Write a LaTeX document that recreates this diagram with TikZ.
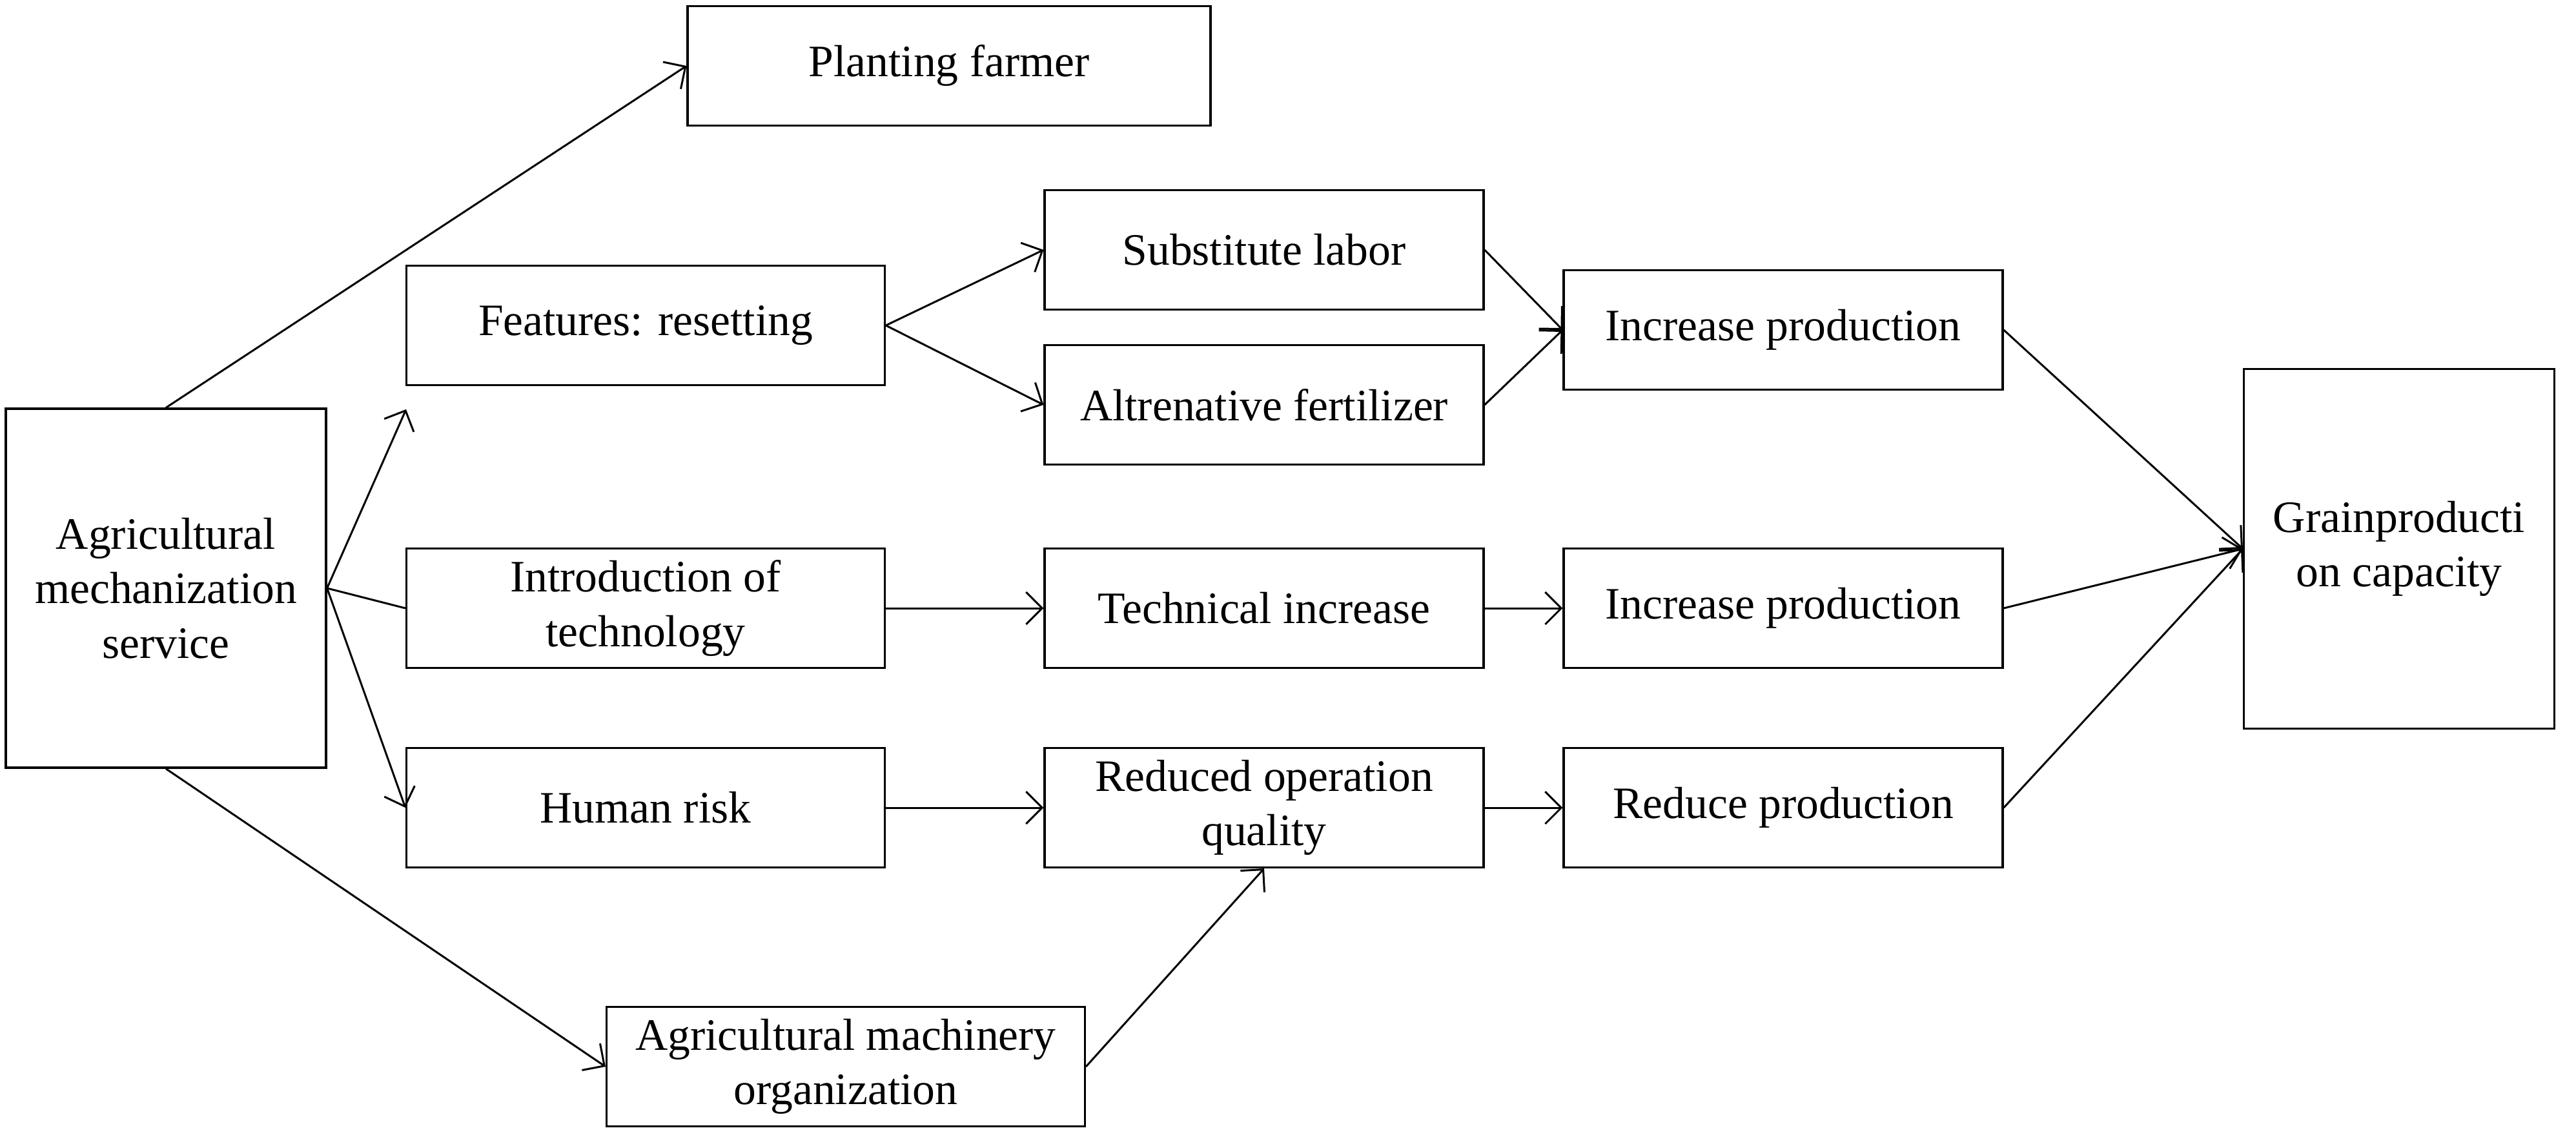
\documentclass[tikz,border=0pt]{standalone}
\usepackage{fontspec}
\setmainfont{Liberation Serif}
\usepackage{tikz}
\usetikzlibrary{arrows.meta, positioning}

\tikzset{
    box/.style={draw, line width=0.9pt, align=center, inner sep=0pt,
        minimum height=1.85cm, font=\fontsize{19.8}{24}\selectfont},
    widebox/.style={box, minimum width=7.41cm},
    midbox/.style={box, minimum width=6.8cm},
    link/.style={line width=0.85pt, -{Straight Barb[length=2.5mm,width=5mm]}},
    plain/.style={line width=0.85pt}
}

\begin{document}
\begin{tikzpicture}
    \useasboundingbox (0,0) rectangle (39.9,-17.6);

    % Left and right columns
    \node[box, minimum width=4.96cm, minimum height=5.56cm] (mech) at (2.57,-9.11) {Agricultural\\mechanization\\service};
    \node[box, minimum width=4.81cm, minimum height=5.57cm] (grain) at (37.16,-8.50) {Grainproducti\\on capacity};

    % Top row
    \node[box, minimum width=8.1cm] (farmer) at (14.70,-1.02) {Planting farmer};
    \node[widebox] (features) at (10.00,-5.04) {Features: resetting};
    \node[midbox] (sublabor) at (19.58,-3.87) {Substitute labor};
    \node[midbox] (fert) at (19.58,-6.27) {Altrenative fertilizer};
    \node[midbox] (incone) at (27.62,-5.11) {Increase production};
    \coordinate (fstub) at (6.29,-6.34);

    % Middle row
    \node[widebox] (intro) at (10.00,-9.42) {Introduction of\\technology};
    \node[midbox] (techinc) at (19.58,-9.42) {Technical increase};
    \node[midbox] (inctwo) at (27.62,-9.42) {Increase production};

    % Bottom rows
    \node[widebox] (hrisk) at (10.00,-12.51) {Human risk};
    \node[midbox] (redop) at (19.58,-12.51) {Reduced operation\\quality};
    \node[midbox] (redprod) at (27.62,-12.51) {Reduce production};
    \node[widebox] (machorg) at (13.10,-16.52) {Agricultural machinery\\organization};

    % Connectors
    \draw[link] (mech.north) -- (farmer.west);
    \draw[link] (mech.east) -- (fstub);
    \draw[plain] (mech.east) -- (intro.west);
    \draw[link] (mech.east) -- (hrisk.west);
    \draw[link] (mech.south) -- (machorg.west);
    \draw[link] (features.east) -- (sublabor.west);
    \draw[link] (features.east) -- (fert.west);
    \draw[link] (sublabor.east) -- (incone.west);
    \draw[link] (fert.east) -- (incone.west);
    \draw[link] (intro.east) -- (techinc.west);
    \draw[link] (techinc.east) -- (inctwo.west);
    \draw[link] (hrisk.east) -- (redop.west);
    \draw[link] (redop.east) -- (redprod.west);
    \draw[link] (machorg.east) -- (redop.south);
    \draw[link] (incone.east) -- (grain.west);
    \draw[link] (inctwo.east) -- (grain.west);
    \draw[link] (redprod.east) -- (grain.west);
\end{tikzpicture}
\end{document}
